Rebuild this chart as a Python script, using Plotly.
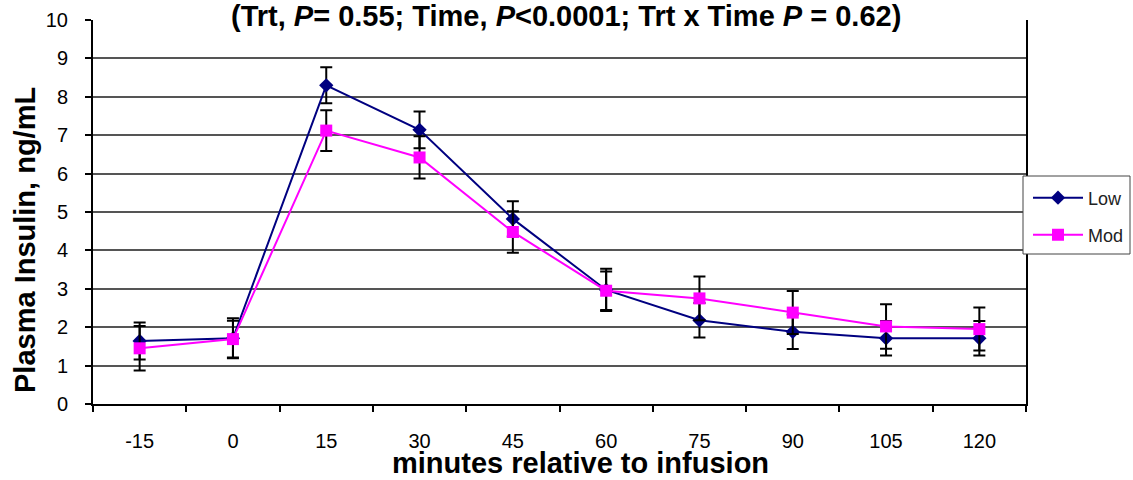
import plotly.graph_objects as go

minutes = ["-15", "0", "15", "30", "45", "60", "75", "90", "105", "120"]
low_mean = [1.64, 1.71, 8.30, 7.14, 4.82, 2.97, 2.18, 1.88, 1.71, 1.71]
low_err = [0.48, 0.52, 0.47, 0.48, 0.46, 0.55, 0.45, 0.45, 0.45, 0.45]
mod_mean = [1.45, 1.69, 7.12, 6.42, 4.48, 2.95, 2.75, 2.38, 2.02, 1.95]
mod_err = [0.58, 0.48, 0.53, 0.55, 0.54, 0.50, 0.57, 0.56, 0.58, 0.56]
yticks = [0, 1, 2, 3, 4, 5, 6, 7, 8, 9, 10]

L, R, T, B = 93, 1026, 20, 404
W, H = 1133, 480

def px_x(p):
    return (p - L) / (R - L)

def px_y(p):
    return (B - p) / (B - T)

fig = go.Figure()
fig.add_trace(go.Scatter(
    x=minutes, y=low_mean, name="Low", mode="lines+markers", legend="legend",
    line=dict(color="#000080", width=2),
    marker=dict(symbol="diamond", size=11, color="#000080"),
    error_y=dict(type="data", array=low_err, visible=True, color="black", thickness=2, width=6),
))
fig.add_trace(go.Scatter(
    x=minutes, y=mod_mean, name="Mod", mode="lines+markers", legend="legend2",
    line=dict(color="#FF00FF", width=2),
    marker=dict(symbol="square", size=12, color="#FF00FF"),
    error_y=dict(type="data", array=mod_err, visible=True, color="black", thickness=2, width=6),
))

leg_common = dict(xref="container", yref="container", xanchor="left", yanchor="middle",
                  bgcolor="rgba(0,0,0,0)", borderwidth=0,
                  font=dict(size=18, color="#222"), itemwidth=50)

fig.update_layout(
    width=W, height=H,
    margin=dict(l=L, r=W - R, t=T, b=H - B, pad=0, autoexpand=False),
    paper_bgcolor="white", plot_bgcolor="white",
    font=dict(family="Arial, Liberation Sans, sans-serif", color="black", size=20),
    showlegend=True,
    legend=dict(x=1028 / W, y=(H - 198) / H, **leg_common),
    legend2=dict(x=1028 / W, y=(H - 235) / H, **leg_common),
    shapes=[dict(type="rect", xref="paper", yref="paper",
                 x0=px_x(1023), x1=px_x(1130), y0=px_y(176), y1=px_y(254),
                 line=dict(color="#444", width=1), fillcolor="white", layer="above")],
    xaxis=dict(
        type="category", categoryorder="array", categoryarray=minutes,
        range=[-0.5, 9.5], tickson="boundaries",
        showgrid=False, showline=True, linecolor="black", linewidth=2,
        ticks="outside", ticklen=6, tickwidth=2, tickcolor="black",
        tickfont=dict(size=20), ticklabelstandoff=18, zeroline=False,
    ),
    yaxis=dict(
        range=[0, 10], tickvals=yticks,
        showgrid=True, gridcolor="#555", gridwidth=1.5,
        showline=True, linecolor="black", linewidth=2, mirror=True,
        ticks="outside", ticklen=6, tickwidth=2, tickcolor="black",
        tickfont=dict(size=20), ticklabelstandoff=13, zeroline=False,
    ),
    annotations=[
        dict(text="<b>(Trt, <i>P</i>= 0.55; Time, <i>P</i>&lt;0.0001; Trt x Time <i>P</i> = 0.62)</b>",
             xref="paper", yref="paper", x=px_x(566), y=px_y(16), xanchor="center", yanchor="middle",
             showarrow=False, font=dict(size=29, color="black")),
        dict(text="<b>Plasma Insulin, ng/mL</b>", textangle=-90,
             xref="paper", yref="paper", x=px_x(25), y=px_y(240), xanchor="center", yanchor="middle",
             showarrow=False, font=dict(size=29, color="black")),
        dict(text="<b>minutes relative to infusion</b>",
             xref="paper", yref="paper", x=px_x(580), y=px_y(463), xanchor="center", yanchor="middle",
             showarrow=False, font=dict(size=29, color="black")),
    ],
)

fig.write_html("out.html")
